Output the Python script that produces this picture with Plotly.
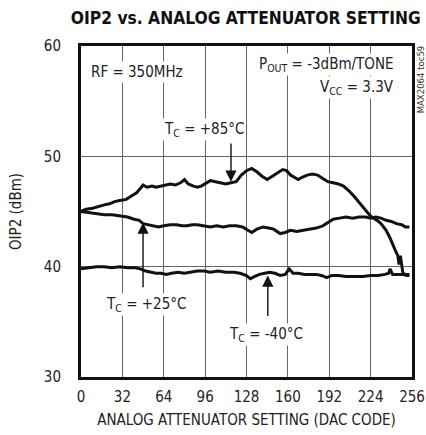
import plotly.graph_objects as go

# ---- data ----
x_85 = [0, 4, 9, 14, 18, 22, 26, 30, 35, 39, 43, 46, 48, 51, 55, 58, 61, 65, 69, 73, 77, 80, 83, 87, 90, 93, 96, 100,
        104, 108, 112, 116, 120, 124, 128, 132, 136, 140, 144, 148, 152, 156, 159, 162, 165, 168, 171, 175, 179, 183,
        187, 191, 195, 199, 203, 207, 211, 215, 219, 223, 226, 229, 232, 236, 239, 241, 243, 245, 246, 247, 249, 251, 254]
y_85 = [45.0, 45.2, 45.3, 45.5, 45.6, 45.7, 45.9, 46.0, 46.1, 46.4, 46.7, 47.1, 47.4, 47.2, 47.3, 47.2, 47.3, 47.4, 47.5, 47.4, 47.6, 47.9, 47.5, 47.3, 47.2, 47.3, 47.5, 47.8,
        47.7, 47.6, 47.5, 47.6, 47.7, 48.3, 48.7, 48.9, 48.6, 48.2, 47.9, 48.2, 48.5, 48.8, 48.7, 48.3, 48.1, 47.9, 48.1, 48.3, 48.4, 48.3,
        48.0, 47.7, 47.6, 47.5, 47.3, 46.9, 46.4, 45.8, 45.2, 44.7, 44.4, 44.2, 43.9, 43.3, 42.6, 42.0, 41.5, 41.0, 40.2, 41.0, 39.4, 39.3, 39.3]

x_25 = [0, 6, 12, 18, 24, 30, 36, 41, 45, 48, 52, 56, 60, 64, 69, 74, 78, 82, 86, 90, 95, 100, 105, 110, 115, 120, 125,
        129, 132, 136, 141, 145, 149, 154, 158, 162, 167, 172, 177, 182, 187, 191, 195, 200, 205, 210, 215, 220, 224,
        228, 232, 236, 240, 244, 248, 251, 254]
y_25 = [45.0, 44.9, 44.8, 44.7, 44.7, 44.6, 44.5, 44.3, 44.2, 43.9, 43.8, 43.7, 43.6, 43.7, 43.8, 43.8, 43.7, 43.7, 43.8, 43.8, 43.7, 43.6, 43.7, 43.6, 43.7, 43.7, 43.6,
        43.3, 43.1, 43.4, 43.6, 43.5, 43.4, 43.0, 43.1, 43.3, 43.2, 43.3, 43.4, 43.5, 43.7, 44.0, 44.3, 44.4, 44.5, 44.4, 44.5, 44.5, 44.4,
        44.5, 44.4, 44.2, 44.1, 43.9, 43.8, 43.6, 43.6]

x_m40 = [0, 6, 12, 18, 24, 30, 36, 42, 46, 50, 54, 58, 62, 66, 70, 75, 80, 85, 90, 95, 100, 106, 112, 118, 123, 128, 131,
         134, 138, 142, 146, 150, 154, 158, 161, 164, 168, 173, 178, 182, 186, 190, 194, 199, 205, 211, 218, 224, 230,
         235, 238, 239, 241, 245, 249, 252, 254]
y_m40 = [39.8, 39.9, 40.0, 40.0, 39.9, 40.0, 39.9, 39.9, 39.8, 39.6, 39.5, 39.4, 39.4, 39.3, 39.4, 39.5, 39.4, 39.5, 39.6, 39.6, 39.5, 39.6, 39.5, 39.5, 39.4, 39.2, 38.9,
         39.1, 39.3, 39.4, 39.5, 39.4, 39.2, 39.3, 39.8, 39.4, 39.4, 39.3, 39.3, 39.3, 39.2, 39.0, 39.2, 39.2, 39.1, 39.1, 39.1, 39.2, 39.2,
         39.3, 39.4, 39.8, 39.3, 39.3, 39.3, 39.2, 39.2]

x_ticks = [0, 32, 64, 96, 128, 160, 192, 224, 256]
y_ticks = [30, 40, 50, 60]

FONT = "DejaVu Sans Condensed, Liberation Sans, sans-serif"
TXT = "#222222"

fig = go.Figure()
for xs, ys in [(x_85, y_85), (x_25, y_25), (x_m40, y_m40)]:
    fig.add_trace(go.Scatter(x=xs, y=ys, mode="lines",
                             line=dict(color="#111111", width=3), showlegend=False, hoverinfo="skip"))

ann_font = dict(family=FONT, size=15, color=TXT)
annotations = [
    dict(x=6.5, y=57.6, text="RF = 350MHz", showarrow=False, xanchor="left", yanchor="middle",
         bgcolor="white", font=ann_font),
    dict(x=244, y=58.3, text="P<sub>OUT</sub> = -3dBm/TONE", showarrow=False, xanchor="right", yanchor="middle",
         bgcolor="white", font=ann_font),
    dict(x=244, y=56.25, text="V<sub>CC</sub> = 3.3V", showarrow=False, xanchor="right", yanchor="middle",
         bgcolor="white", font=ann_font),
    dict(x=95, y=52.4, text="T<sub>C</sub> = +85°C", showarrow=False, xanchor="center", yanchor="middle",
         bgcolor="white", font=ann_font),
    dict(x=50, y=36.6, text="T<sub>C</sub> = +25°C", showarrow=False, xanchor="center", yanchor="middle",
         bgcolor="white", font=ann_font),
    dict(x=143, y=33.85, text="T<sub>C</sub> = -40°C", showarrow=False, xanchor="center", yanchor="middle",
         bgcolor="white", font=ann_font),
    # arrows
    dict(x=116, y=47.7, ax=116, ay=51.3, axref="x", ayref="y", xref="x", yref="y", text="",
         showarrow=True, arrowhead=2, arrowsize=1.6, arrowwidth=1.4, arrowcolor="#111111"),
    dict(x=48, y=44.0, ax=48, ay=38.0, axref="x", ayref="y", xref="x", yref="y", text="",
         showarrow=True, arrowhead=2, arrowsize=1.6, arrowwidth=1.4, arrowcolor="#111111"),
    dict(x=144.5, y=39.2, ax=144.5, ay=35.4, axref="x", ayref="y", xref="x", yref="y", text="",
         showarrow=True, arrowhead=2, arrowsize=1.6, arrowwidth=1.4, arrowcolor="#111111"),
    # side code
    dict(x=1.025, y=0.9, xref="paper", yref="paper", text="MAX2064 toc59", showarrow=False, textangle=-90,
         font=dict(family=FONT, size=9.5, color="#333333"), xanchor="center", yanchor="middle"),
]

fig.update_layout(
    width=426, height=435,
    margin=dict(l=81, r=14, t=46, b=58),
    paper_bgcolor="white", plot_bgcolor="white",
    title=dict(text="<b>OIP2 vs. ANALOG ATTENUATOR SETTING</b>", x=0.577, xanchor="center", y=0.958, yanchor="middle",
               font=dict(family=FONT, size=17.3, color="#111111")),
    annotations=annotations,
    font=dict(family=FONT, size=15, color=TXT),
)
fig.update_xaxes(range=[0, 256], tickvals=x_ticks, ticktext=[str(v) for v in x_ticks],
                 showgrid=True, gridcolor="#666666", gridwidth=1, zeroline=False,
                 showline=True, linecolor="#111111", linewidth=3, mirror=True, ticks="",
                 ticklabelstandoff=4, automargin=False,
                 title=dict(text="ANALOG ATTENUATOR SETTING (DAC CODE)", standoff=10,
                            font=dict(family=FONT, size=15, color=TXT)),
                 tickfont=dict(family=FONT, size=15, color=TXT))
fig.update_yaxes(range=[30, 60], tickvals=y_ticks, ticktext=[str(v) for v in y_ticks],
                 showgrid=True, gridcolor="#666666", gridwidth=1, zeroline=False,
                 showline=True, linecolor="#111111", linewidth=3, mirror=True, ticks="",
                 ticklabelstandoff=14, automargin=False,
                 title=dict(text="OIP2 (dBm)", standoff=19,
                            font=dict(family=FONT, size=15, color=TXT)),
                 tickfont=dict(family=FONT, size=15, color=TXT))

# remove the browser's default 8px page margin so the figure sits at the window origin
fig.write_html("out.html", config={"displayModeBar": False},
               post_script="document.body.style.margin='0px';")
